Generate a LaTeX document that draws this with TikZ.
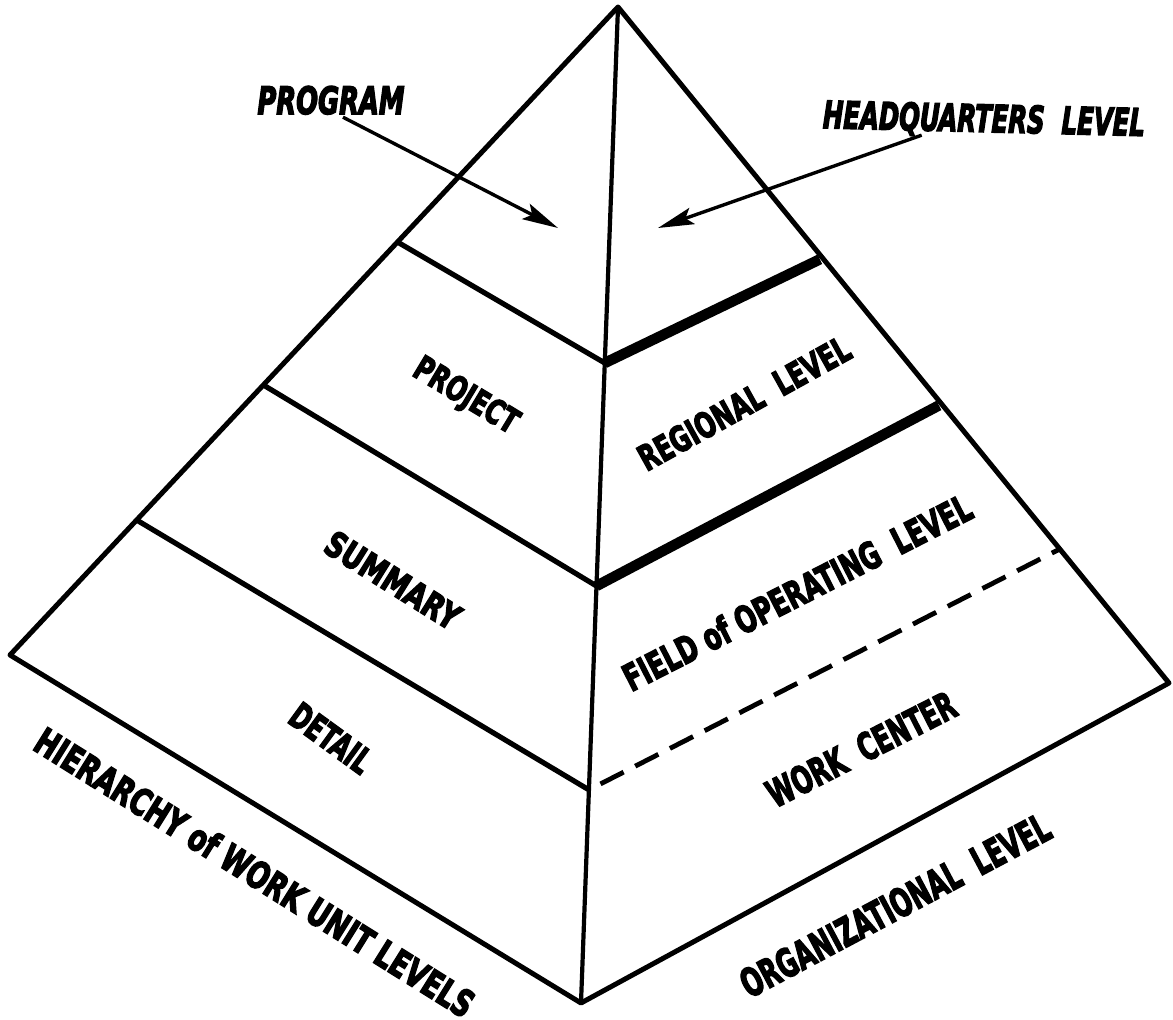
\documentclass[tikz,border=0pt]{standalone}
\usepackage{fontspec}
\usepackage{graphicx}
\usetikzlibrary{arrows.meta,calc}
\newfontfamily\handfont{DejaVu Sans Condensed}[BoldFeatures={FakeBold=4},BoldItalicFeatures={FakeBold=4}]
% hand-lettered caption: width, cap height, text
\newcommand{\fitlabel}[3]{\resizebox{#1pt}{#2pt}{\handfont\bfseries #3}}
\newcommand{\fitlabelit}[3]{\resizebox{#1pt}{#2pt}{\handfont\bfseries\itshape #3}}
\tikzset{
  outline/.style={line width=5pt, line join=round},
  spine/.style={line width=4.2pt},
  band/.style={line width=5.2pt},
  heavy/.style={line width=10.5pt, shorten >=3pt},
  dashband/.style={line width=4.8pt, dash pattern=on 26pt off 13pt, dash phase=26pt},
  pointer/.style={line width=3.4pt, -{Stealth[length=36pt,width=17pt,inset=7pt]}},
  lbl/.style={inner sep=0pt, text height=#1pt, text depth=0pt},
}
\begin{document}
\begin{tikzpicture}[x=1pt,y=-1pt]
  \useasboundingbox[fill=white] (0,0) rectangle (1173,1020);

  % corners of the pyramid
  \coordinate (apex) at (618,7);
  \coordinate (lc) at (10,655);
  \coordinate (bc) at (581,1003);
  \coordinate (rc) at (1169,683);

  % division points on the edges
  \coordinate (l1) at ($(apex)!0.3627!(lc)$);
  \coordinate (l2) at ($(apex)!0.5833!(lc)$);
  \coordinate (l3) at ($(apex)!0.7917!(lc)$);
  \coordinate (c1) at ($(apex)!0.3574!(bc)$);
  \coordinate (c2) at ($(apex)!0.5813!(bc)$);
  \coordinate (c3) at ($(apex)!0.7860!(bc)$);
  \coordinate (r1) at ($(apex)!0.3713!(rc)$);
  \coordinate (r2) at ($(apex)!0.5873!(rc)$);
  \coordinate (r3) at ($(apex)!0.8018!(rc)$);

  % faces and front edge
  \draw[outline] (apex) -- (lc) -- (bc) -- (rc) -- cycle;
  \draw[spine] (apex) -- (bc);

  % work unit levels (left face)
  \draw[band] (l1) -- (c1);
  \draw[band] (l2) -- (c2);
  \draw[band] (l3) -- (c3);

  % organizational levels (right face)
  \draw[heavy] (c1) -- (r1);
  \draw[heavy] (c2) -- (r2);
  \draw[dashband] (c3) -- (r3);

  % arrow targets in the top section
  \coordinate (progtip) at (558,228);
  \coordinate (hqtip) at (658,228);

  % captions above the pyramid
  \node[lbl=28] (prog) at (331,100) {\fitlabelit{147}{28}{PROGRAM}};
  \node[lbl=28, rotate=-1.4] (hq) at (984,118) {\fitlabelit{322}{28}{HEADQUARTERS\ \ LEVEL}};
  \draw[pointer] ($(prog.south)+(12,3)$) -- (progtip);
  \draw[pointer] ($(hq.south)+(-62,3)$) -- (hqtip);

  % left face labels
  \node[lbl=25, rotate=-31] (proj) at (467,394) {\fitlabel{116}{25}{PROJECT}};
  \node[lbl=26, rotate=-32] (summ) at (393,580) {\fitlabel{152}{26}{SUMMARY}};
  \node[lbl=26, rotate=-36] (det) at (331,738) {\fitlabel{92}{26}{DETAIL}};
  \node[lbl=28, rotate=-32] (hier) at (255,872) {\fitlabel{510}{28}{HIERARCHY of WORK UNIT LEVELS}};

  % right face labels
  \node[lbl=26, rotate=29] (reg) at (744,403) {\fitlabel{237}{26}{REGIONAL\ \ LEVEL}};
  \node[lbl=28, rotate=27] (field) at (797,592) {\fitlabel{386}{28}{FIELD of OPERATING\ \ LEVEL}};
  \node[lbl=28, rotate=27] (work) at (861,749) {\fitlabel{207}{28}{WORK\ \ CENTER}};
  \node[lbl=29, rotate=28] (org) at (895,905) {\fitlabel{345}{29}{ORGANIZATIONAL\ \ LEVEL}};
\end{tikzpicture}
\end{document}
